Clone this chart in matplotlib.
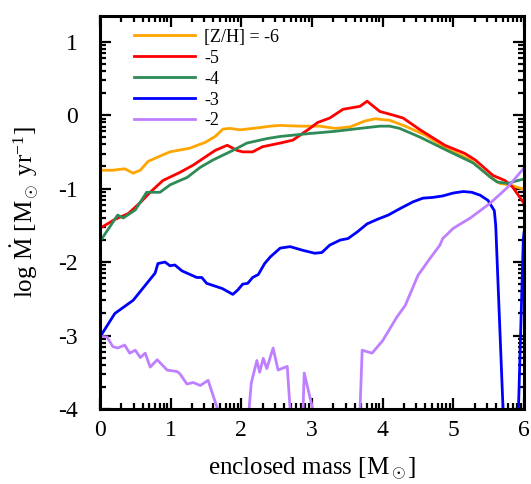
import numpy as np
import matplotlib

matplotlib.use("Agg")
import matplotlib.pyplot as plt
from matplotlib.ticker import FixedLocator

plt.rcParams["font.family"] = ["Liberation Serif", "DejaVu Serif"]
plt.rcParams["mathtext.fontset"] = "custom"
plt.rcParams["mathtext.rm"] = "Liberation Serif"
plt.rcParams["mathtext.it"] = "Liberation Serif:italic"

# enclosed mass [Msun] vs log Mdot, one pair of arrays per [Z/H]
m_z6 = [0, 0.18, 0.35, 0.47, 0.57, 0.68, 0.89, 0.99, 1.27, 1.49, 1.63, 1.74, 1.84,
        1.98, 2.26, 2.41, 2.55, 2.83, 3.11, 3.33, 3.54, 3.75, 3.89, 4.10, 4.32,
        4.60, 4.88, 5.24, 5.52, 5.66, 5.80, 6.0]
l_z6 = [-0.75, -0.75, -0.73, -0.79, -0.75, -0.63, -0.54, -0.50, -0.45, -0.37, -0.29,
        -0.19, -0.18, -0.20, -0.17, -0.15, -0.14, -0.15, -0.15, -0.18, -0.16, -0.08,
        -0.05, -0.07, -0.15, -0.27, -0.44, -0.61, -0.84, -0.93, -0.95, -1.01]

m_z5 = [0, 0.21, 0.40, 0.57, 0.71, 0.89, 1.13, 1.32, 1.49, 1.63, 1.80, 1.94, 2.02,
        2.16, 2.30, 2.55, 2.73, 2.97, 3.08, 3.25, 3.44, 3.68, 3.78, 3.96, 4.15,
        4.29, 4.53, 4.88, 5.16, 5.31, 5.56, 5.73, 5.84, 6.0]
l_z5 = [-1.54, -1.42, -1.34, -1.19, -1.05, -0.89, -0.78, -0.68, -0.57, -0.48, -0.41,
        -0.48, -0.50, -0.50, -0.43, -0.38, -0.34, -0.18, -0.10, -0.04, 0.08, 0.12,
        0.19, 0.05, 0.0, -0.04, -0.20, -0.41, -0.52, -0.61, -0.82, -0.89, -0.98, -1.20]

m_z4 = [0, 0.25, 0.33, 0.50, 0.66, 0.85, 0.99, 1.13, 1.23, 1.42, 1.60, 1.88, 2.08,
        2.36, 2.55, 2.97, 3.33, 3.68, 3.96, 4.10, 4.24, 4.53, 4.91, 5.28, 5.52,
        5.62, 5.77, 5.91, 6.0]
l_z4 = [-1.72, -1.36, -1.40, -1.29, -1.05, -1.05, -0.95, -0.89, -0.85, -0.71, -0.61,
        -0.48, -0.38, -0.32, -0.29, -0.25, -0.22, -0.18, -0.15, -0.15, -0.18, -0.30,
        -0.48, -0.65, -0.84, -0.91, -0.93, -0.89, -0.87]

m_z3 = [0, 0.21, 0.47, 0.78, 0.82, 0.92, 0.99, 1.06, 1.16, 1.37, 1.44, 1.51, 1.73,
        1.88, 1.95, 2.02, 2.09, 2.16, 2.24, 2.33, 2.41, 2.55, 2.69, 2.87, 3.04,
        3.14, 3.25, 3.40, 3.51, 3.64, 3.78, 3.92, 4.08, 4.25, 4.43, 4.57, 4.71,
        4.85, 5.00, 5.14, 5.26, 5.38, 5.49, 5.58, 5.60, 5.72, 5.91, 5.99, 6.0]
l_z3 = [-3.02, -2.70, -2.52, -2.15, -2.02, -2.00, -2.05, -2.04, -2.12, -2.21, -2.21,
        -2.29, -2.36, -2.44, -2.38, -2.30, -2.29, -2.21, -2.17, -2.02, -1.93, -1.81,
        -1.79, -1.84, -1.88, -1.87, -1.77, -1.70, -1.68, -1.59, -1.48, -1.42, -1.36,
        -1.27, -1.18, -1.13, -1.12, -1.10, -1.06, -1.04, -1.05, -1.09, -1.16, -1.30,
        -1.50, -4.4, -4.4, -1.7, -1.6]

m_z2 = [0, 0.10, 0.18, 0.25, 0.35, 0.42, 0.50, 0.57, 0.64, 0.71, 0.81, 0.95, 1.09,
        1.13, 1.23, 1.32, 1.42, 1.53, 1.66, 1.75, 2.05, 2.11, 2.14, 2.22, 2.26, 2.31,
        2.36, 2.45, 2.52, 2.65, 2.69, 2.72, 2.86, 2.89, 3.01, 3.05, 3.64, 3.68, 3.71,
        3.85, 4.00, 4.20, 4.32, 4.50, 4.67, 4.81, 4.85, 5.00, 5.24, 5.52, 5.76, 6.0]
l_z2 = [-3.01, -3.02, -3.15, -3.17, -3.13, -3.24, -3.20, -3.30, -3.24, -3.43, -3.33,
        -3.47, -3.49, -3.52, -3.66, -3.64, -3.68, -3.61, -3.99, -4.4, -4.4, -4.0,
        -3.65, -3.34, -3.50, -3.31, -3.45, -3.17, -3.47, -3.42, -4.0, -4.4, -4.4,
        -3.51, -4.0, -4.4, -4.4, -4.0, -3.20, -3.24, -3.07, -2.75, -2.59, -2.18,
        -1.95, -1.77, -1.68, -1.54, -1.40, -1.20, -0.99, -0.72]

series = [
    (m_z6, l_z6, "#FFA500", "[Z/H] = -6"),
    (m_z5, l_z5, "#FF0000", "-5"),
    (m_z4, l_z4, "#2E8B57", "-4"),
    (m_z3, l_z3, "#0000FF", "-3"),
    (m_z2, l_z2, "#BF80FF", "-2"),
]

fig = plt.figure(figsize=(5.31, 4.84), dpi=100)
ax = fig.add_axes([0.1883, 0.155, 0.7985, 0.812])

for m, l, c, lab in series:
    ax.plot(m, l, color=c, lw=2.0, label=lab)

ax.set_xlim(0, 6)
ax.set_ylim(-4, 1.35)
ax.set_xticks(range(0, 7))
ax.set_yticks(range(-4, 2))
ax.set_yticklabels([str(v) for v in range(-4, 2)])

# xmgrace-style log minor ticks inside each unit interval
logs = np.log10(np.arange(2, 10))
ax.xaxis.set_minor_locator(FixedLocator([n + f for n in range(0, 6) for f in logs]))
ax.yaxis.set_minor_locator(FixedLocator([n + f for n in range(-4, 1) for f in logs]))

ax.tick_params(which="both", direction="in", top=True, right=True, width=1.6,
               labelsize=17)
ax.tick_params(axis="x", pad=8)
ax.tick_params(axis="y", pad=16)
ax.tick_params(which="major", length=8)
ax.tick_params(which="minor", length=4.5)
for s in ax.spines.values():
    s.set_linewidth(2.2)

ax.set_xlabel(r"enclosed mass [M$_\odot$]", fontsize=18, labelpad=10)
ax.set_ylabel(r"log $\dot{\rm M}$ [M$_\odot$ yr$^{-1}$]", fontsize=18, labelpad=12)

ax.legend(loc="upper left", bbox_to_anchor=(0.05, 1.0), frameon=False, fontsize=13,
          handlelength=3.4, handletextpad=0.5, labelspacing=0.22, borderaxespad=0.3)

fig.savefig("out.png", dpi=100)
